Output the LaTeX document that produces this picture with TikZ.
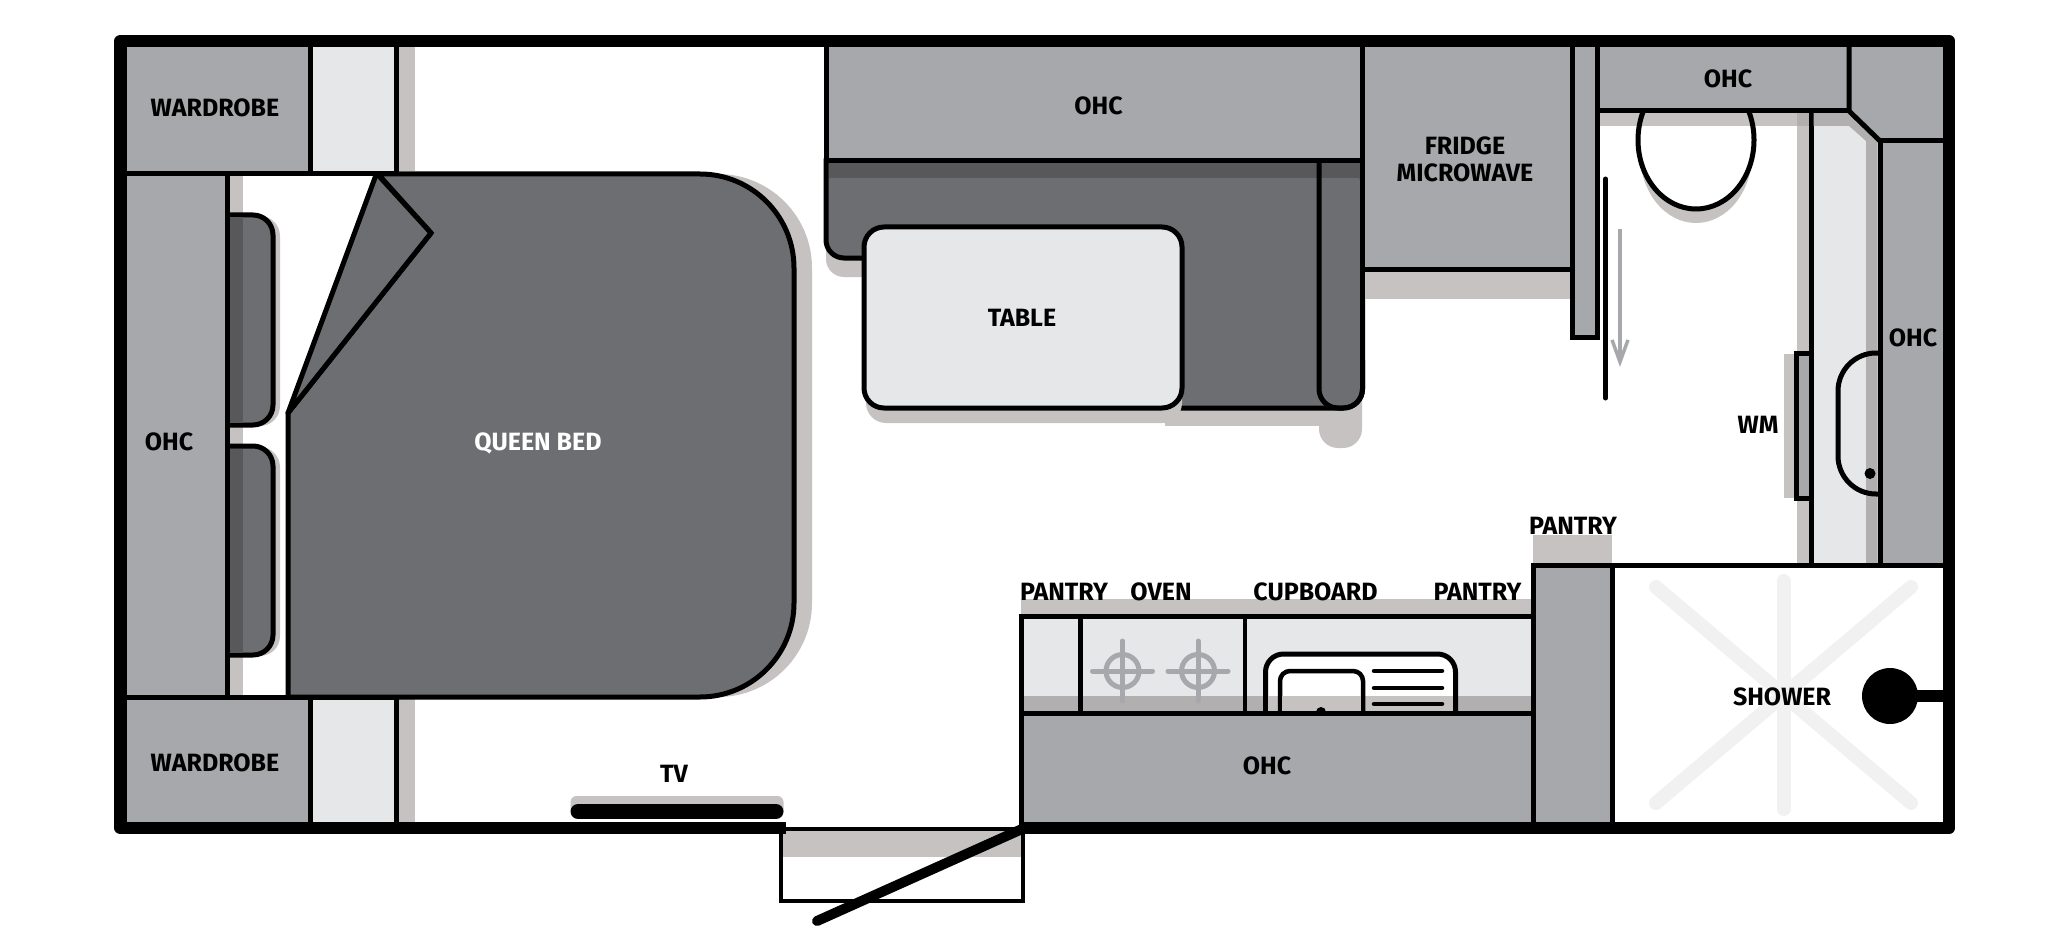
\documentclass[tikz,border=0pt]{standalone}
\usepackage{fontspec}
\setmainfont{Fira Sans}
\usepackage{tikz}
\usetikzlibrary{positioning, arrows.meta}
\definecolor{ohcgrey}{HTML}{A7A8AB}
\definecolor{softgrey}{HTML}{E6E7E8}
\definecolor{bedgrey}{HTML}{6D6E71}
\definecolor{stripgrey}{HTML}{58585A}
\definecolor{shadegrey}{HTML}{C5C2C1}
\definecolor{deepshade}{HTML}{B1AFAF}
\definecolor{flooraxis}{HTML}{F1F1F1}
\tikzset{
	labe/.style={
		align=center,
		inner sep=0pt,
		text depth=0pt,
		font={\fontsize{25}{27}\selectfont\bfseries}
	},
	wall/.style={
		draw=black,
		line width=12.5pt,
		line join=round
	},
	unit/.style={
		draw=black,
		line width=5pt,
		fill=ohcgrey
	},
	softunit/.style={
		unit,
		fill=softgrey
	},
	seat/.style={
		unit,
		fill=bedgrey
	},
	shade/.style={
		draw=none,
		fill=shadegrey
	},
	deep/.style={
		draw=none,
		fill=deepshade
	},
	thin line/.style={
		draw=black,
		line width=4pt
	}
}
\newcommand{\bedoutline}{(288,413) -- (431,233) -- (378,174) [rounded corners=94pt] -- (794,174) -- (794,697) [sharp corners] -- (288,697) -- cycle}
\begin{document}
\begin{tikzpicture}[x=1pt,y=-1pt]
	\useasboundingbox (0,0) rectangle (2048,952);
	% wardrobes and walk-through
	\path[shade] (398,47) rectangle (415,171);
	\path[shade] (398,699) rectangle (415,822);
	\path[unit] (120,41) rectangle (310,173.5);
	\path[softunit] (310,41) rectangle (396.5,173.5);
	\path[unit] (120,697) rectangle (310,828);
	\path[softunit] (310,697) rectangle (396.5,828);
	
	% bed head
	\path[shade] (229,176) rectangle (243,695);
	\foreach \ytop/\ybot in {215/425,446/655}{
		\path[shade, rounded corners=20pt] (240,\ytop+1) -- (280,\ytop+1) -- (280,\ybot+1) -- (240,\ybot+1);
		\path[seat, rounded corners=20pt] (229,\ytop) -- (273,\ytop) -- (273,\ybot) -- (229,\ybot);
		\path[draw=none, fill=stripgrey] (229,\ytop+2.5) rectangle (243,\ybot-2.5);
	}
	\path[unit] (120,173.5) rectangle (227,697);
	
	% bed
	\path[shade, xshift=18pt] \bedoutline;
	\path[seat] \bedoutline;
	\path[seat, line join=round] (288,413) -- (376,175) -- (378,175) -- (431,233) -- cycle;
	
	% dinette
	\path[shade, rounded corners=18pt] (826,200) -- (826,277) -- (900,277) -- (900,200);
	\path[shade] (1165,380) -- (1165,426) -- (1319,426) -- (1319,380) -- cycle;
	\path[shade, rounded corners=19pt] (1319,380) -- (1319,448) -- (1362,448) -- (1362,380);
	\path[seat, rounded corners=18pt] (826,161) -- (826,258) -- (900,258) [sharp corners] -- (900,408) [rounded corners=19pt] -- (1362.5,408) -- (1362.5,161) [sharp corners] -- cycle;
	\path[draw=none, fill=stripgrey] (828.5,163) rectangle (1360,178);
	\path[draw=black, line width=5pt, rounded corners=19pt] (1319,161) -- (1319,408) -- (1362.5,408) -- (1362.5,360);
	\path[shade, rounded corners=20pt] (866,300) -- (866,423) -- (1182,423) -- (1182,300);
	\path[softunit, rounded corners=20pt] (864,227) rectangle (1182,408);
	\path[unit] (826,41) rectangle (1362.5,161);
	
	% fridge and partition
	\path[shade] (1365,271) rectangle (1572,298.5);
	\path[unit] (1362.5,41) rectangle (1572,269);
	\path[unit] (1572,41) rectangle (1597,337);
	
	% bathroom
	\begin{scope}
		\clip (1600,111) rectangle (1800,300);
		\path[shade] (1696,154) ellipse [x radius=56, y radius=69];
		\path[draw=none, fill=white] (1696,140) ellipse [x radius=58, y radius=69];
		\path[shade] (1599,113) rectangle (1797,126);
		\path[draw=black, line width=5pt] (1696,140) ellipse [x radius=58, y radius=69];
	\end{scope}
	\path[shade] (1797,113) rectangle (1809,563);
	\path[deep] (1797,113) rectangle (1809,126);
	\path[shade] (1784,354) rectangle (1796,498);
	\path[softunit] (1811,111) rectangle (1880,565);
	\path[deep] (1813.5,113) -- (1849,113) -- (1877.5,141) -- (1877.5,563) -- (1866,563) -- (1866,141) -- (1849,126) -- (1813.5,126) -- cycle;
	\path[unit] (1796,353) rectangle (1811,498.5);
	\path[draw=black, line width=5pt, rounded corners=38pt] (1880,353) -- (1838,353) -- (1838,494) -- (1880,494);
	\path[draw=none, fill=black] (1870,473.5) circle [radius=5.5pt];
	\path[unit] (1597,41) rectangle (1849,111);
	\path[unit] (1849,41) -- (1949,41) -- (1949,141) -- (1880,141) -- (1849,111) -- cycle;
	\path[unit] (1880,141) rectangle (1949,565);
	
	% sliding door
	\path[draw=black, line width=5pt, line cap=round] (1605.5,179) -- (1605.5,398);
	\coordinate (slidestart) at (1620,229.5);
	\coordinate (slideend) at (1620,367);
	\draw[ohcgrey, line width=3.5pt, -{Straight Barb[length=22pt, width=16pt]}] (slidestart) -- (slideend);
	
	% kitchen
	\path[shade] (1021,599) rectangle (1531,615);
	\path[softunit] (1021.5,616.5) rectangle (1533,713);
	\path[deep] (1024,696) rectangle (1531,711);
	\foreach \cx in {1080.5,1245}{
		\draw[black, line width=4.5pt] (\cx,616.5) -- (\cx,713);
	}
	\foreach \cx in {1122.5,1198}{
		\draw[ohcgrey, line width=5pt] (\cx,671) circle [radius=16.5pt];
		\draw[ohcgrey, line width=5pt, line cap=round] (\cx-30,671) -- (\cx+30,671);
		\draw[ohcgrey, line width=5pt, line cap=round] (\cx,641) -- (\cx,701);
	}
	\path[draw=black, fill=white, line width=5pt, rounded corners=18pt] (1265.5,713) -- (1265.5,654) -- (1455.5,654) -- (1455.5,713);
	\path[shade] (1268,696) rectangle (1453,711);
	\path[draw=black, fill=white, line width=4.5pt, rounded corners=10pt] (1280,713) -- (1280,671) -- (1363,671) -- (1363,713);
	\path[shade] (1282,696) rectangle (1361,711);
	\foreach \ly in {671,688,704}{
		\draw[black, line width=4.5pt, line cap=round] (1374,\ly) -- (1442,\ly);
	}
	\path[draw=none, fill=black] (1321,712) circle [radius=5pt];
	\path[unit] (1021.5,713) rectangle (1533,828);
	\path[shade] (1533,535) rectangle (1611.5,563);
	\path[unit] (1533.5,565) rectangle (1612,828);
	
	% shower
	\draw[black, line width=5pt] (1612,565) -- (1949,565);
	\foreach \ax/\ay/\bx/\by in {1783.5/581/1783.5/809,1656/587/1911/803,1911/587/1656/803}{
		\draw[flooraxis, line width=14pt, line cap=round] (\ax,\ay) -- (\bx,\by);
	}
	\path[draw=none, fill=black] (1890,696) circle [radius=28pt];
	\path[draw=none, fill=black] (1890,690) rectangle (1943,702);
	
	% entry and tv
	\path[shade, rounded corners=6pt] (570.5,811) -- (570.5,796) -- (783.5,796) -- (783.5,811);
	\path[draw=black, line width=15pt, line cap=round] (578,811.5) -- (776,811.5);
	\path[shade] (783,830) rectangle (1021,857);
	\path[thin line] (786,828.5) -- (781,828.5) -- (781,901) -- (1023,901) -- (1023,828.5) -- (1022,828.5);
	\path[thin line] (786,828.5) -- (1022,828.5);
	\path[wall] (786,828) -- (120.5,828) -- (120.5,41) -- (1949,41) -- (1949,828) -- (1022,828);
	\coordinate (doorhinge) at (1022,829);
	\coordinate (doorleaf) at (817,921);
	\path[draw=black, line width=10pt, line cap=round] (doorhinge) -- (doorleaf);
	
	% labels
	\node[labe] (wardrobetop) at (215,108) {WARDROBE};
	\node[labe] (wardrobebottom) at (215,763) {WARDROBE};
	\node[labe] (ohcleft) at (169,441.5) {OHC};
	\node[labe, white] (queenbed) at (538,441.5) {QUEEN BED};
	\node[labe] (ohcdinette) at (1098.5,106) {OHC};
	\node[labe] (tablelabel) at (1022,318) {TABLE};
	\node[labe] (fridge) at (1465,159) {FRIDGE\\MICROWAVE};
	\node[labe] (ohctop) at (1728,79) {OHC};
	\node[labe] (ohcright) at (1913,338) {OHC};
	\node[labe] (washer) at (1758,425) {WM};
	\node[labe] (pantrytall) at (1573,525.5) {PANTRY};
	\node[labe] (pantryleft) at (1064,592) {PANTRY};
	\node[labe] (oven) at (1161,592) {OVEN};
	\node[labe] (cupboard) at (1315.5,592) {CUPBOARD};
	\node[labe] (pantryright) at (1477.5,592) {PANTRY};
	\node[labe] (ohckitchen) at (1267,766) {OHC};
	\node[labe] (shower) at (1782,697) {SHOWER};
	\node[labe] (tvlabel) at (674,774) {TV};
\end{tikzpicture}
\end{document}
